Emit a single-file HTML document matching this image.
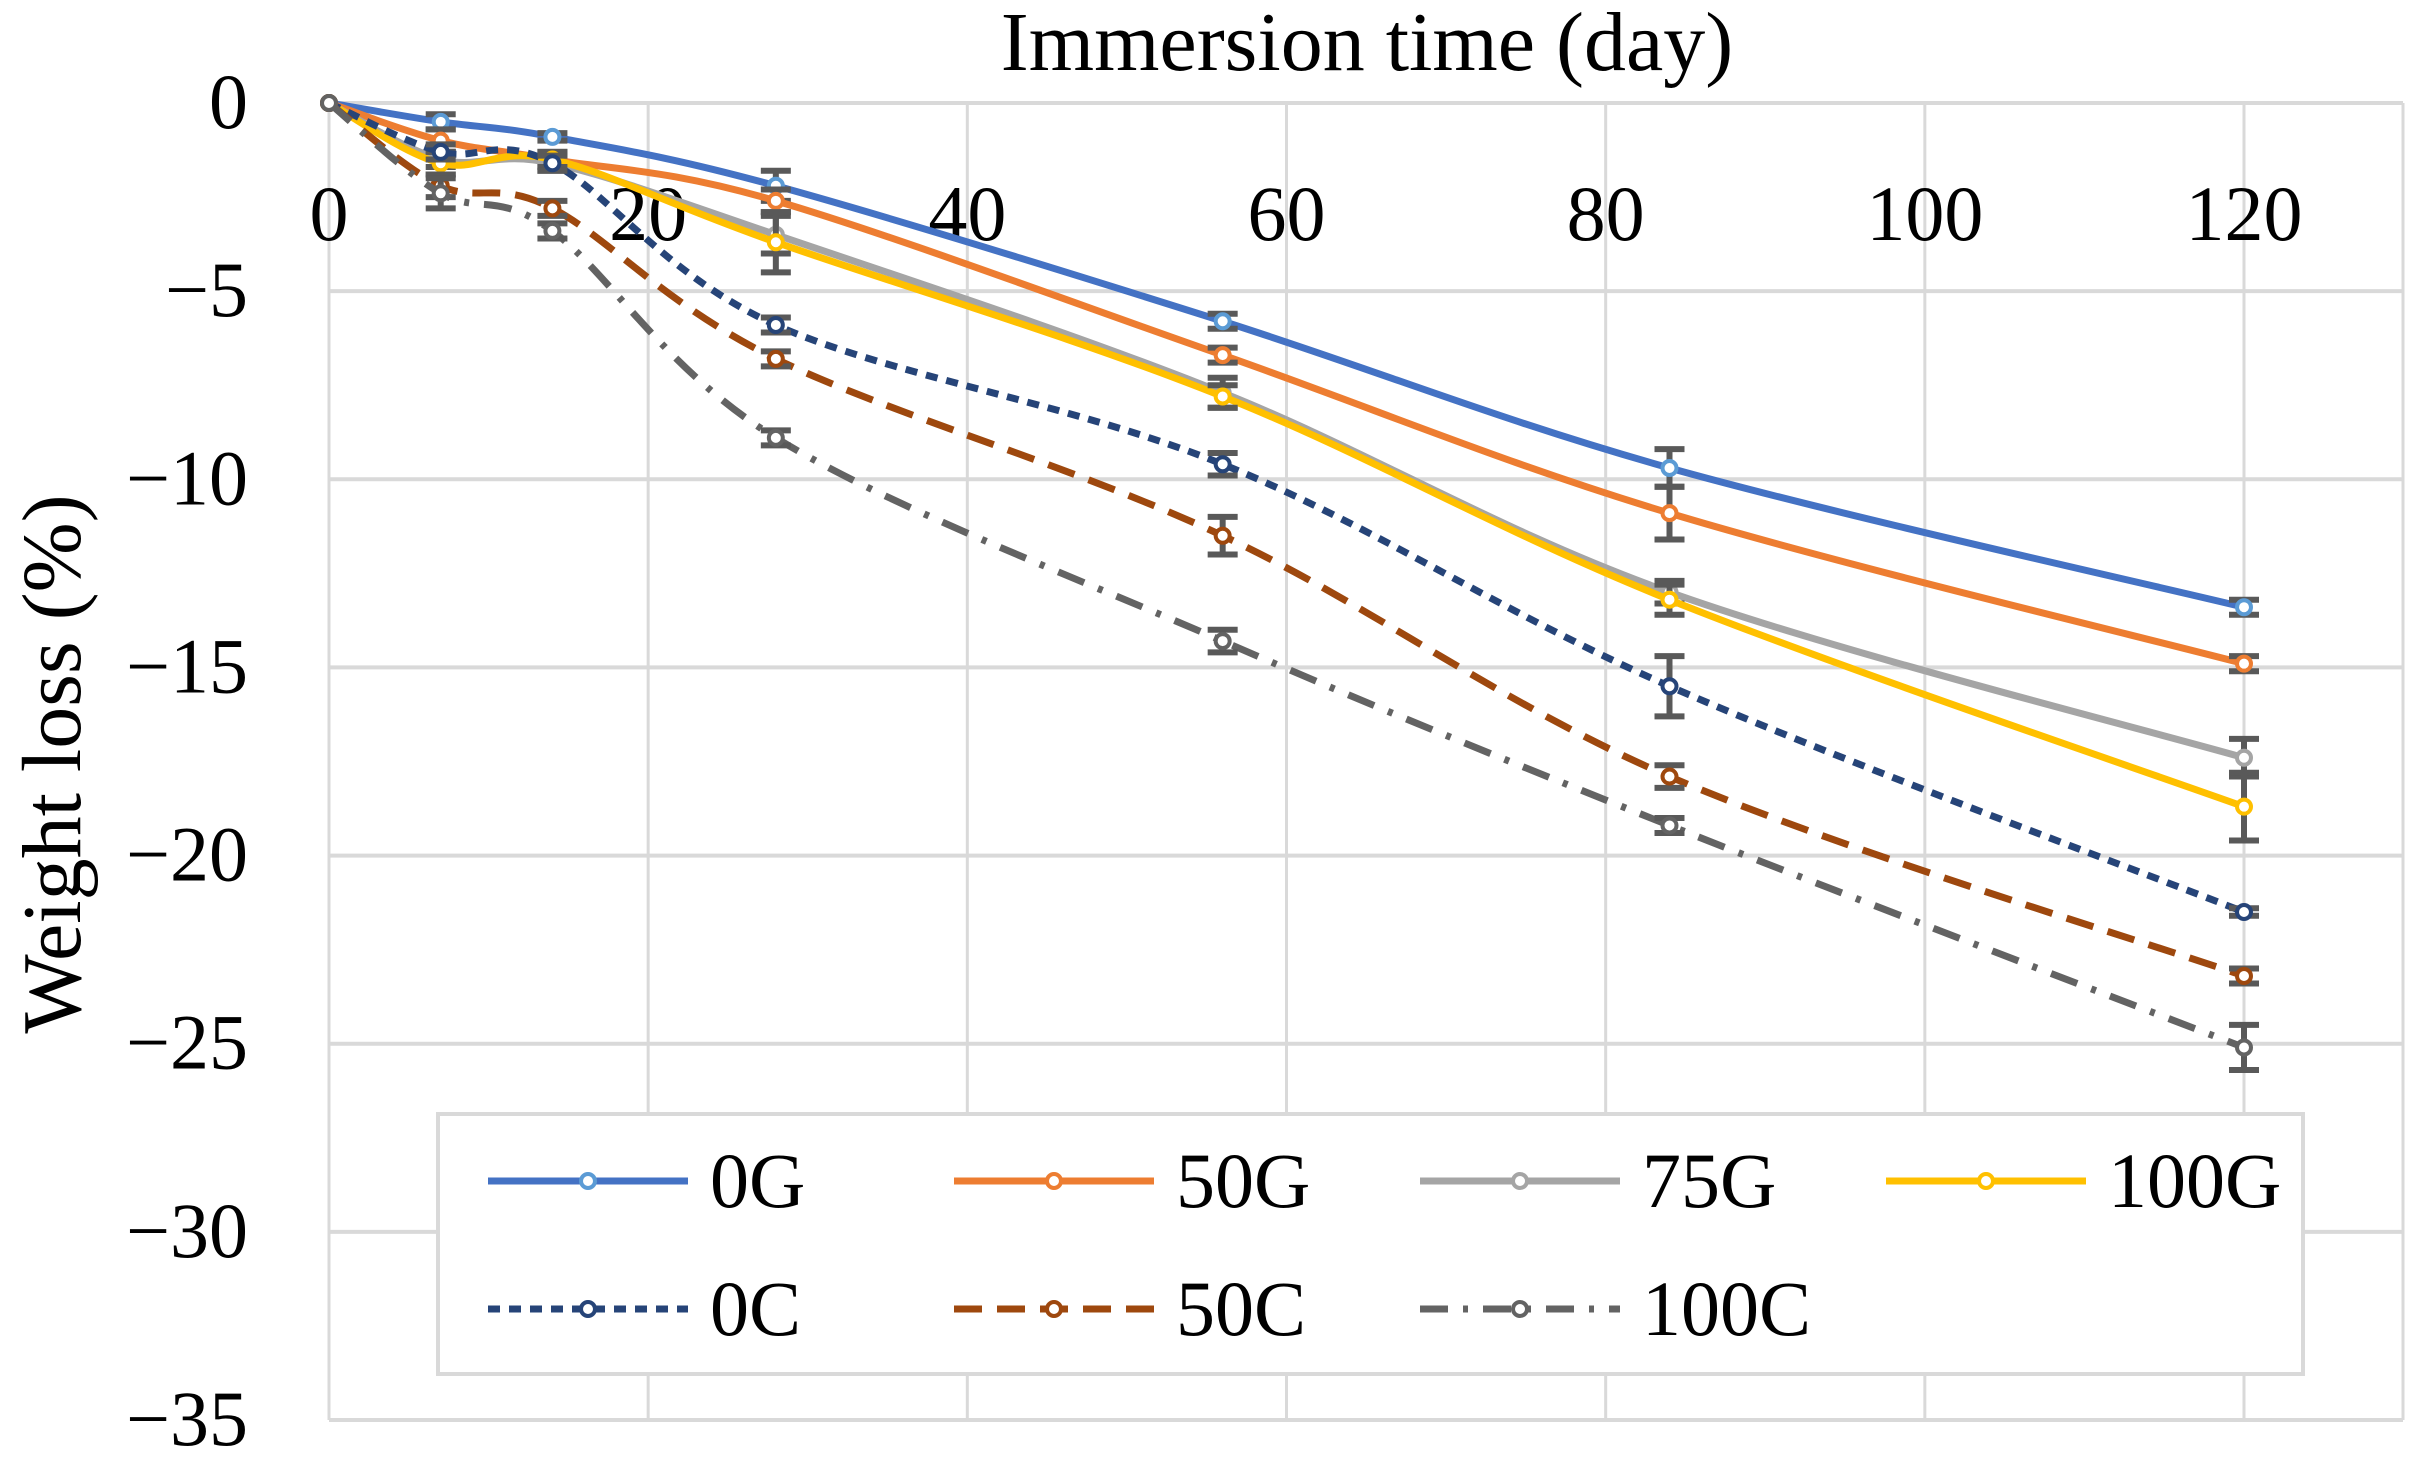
<!DOCTYPE html>
<html><head><meta charset="utf-8"><style>
html,body{margin:0;padding:0;background:#fff;}
svg{display:block;font-family:"Liberation Serif",serif;}
</style></head><body>
<svg id="chart" width="2420" height="1471" viewBox="0 0 2420 1471">
<g id="grid"></g>
<g id="xticks"></g>
<g id="yticks"></g>
<g id="series"></g>
<text x="1367" y="70" font-size="84" text-anchor="middle">Immersion time (day)</text>
<text transform="translate(80,764) rotate(-90)" font-size="84" text-anchor="middle">Weight loss (%)</text>
<g id="legend"></g>
</svg>
<script>
const days = [0, 7, 14, 28, 56, 84, 120];
const seriesNames = ["0G","50G","75G","100G","0C","50C","100C"];
const v0G   = [0, -0.5, -0.9, -2.2, -5.8, -9.7, -13.4];
const v50G  = [0, -1.0, -1.5, -2.6, -6.7, -10.9, -14.9];
const v75G  = [0, -1.5, -1.6, -3.5, -7.7, -13.0, -17.4];
const v100G = [0, -1.6, -1.5, -3.7, -7.8, -13.2, -18.7];
const v0C   = [0, -1.3, -1.6, -5.9, -9.6, -15.5, -21.5];
const v50C  = [0, -2.2, -2.8, -6.8, -11.5, -17.9, -23.2];
const v100C = [0, -2.4, -3.4, -8.9, -14.3, -19.2, -25.1];
const e0G   = [0, 0.2, 0.1, 0.4, 0.2, 0.5, 0.2];
const e50G  = [0, 0.3, 0.2, 0.3, 0.2, 0.7, 0.2];
const e75G  = [0, 0.2, 0.2, 0.5, 0.4, 0.3, 0.5];
const e100G = [0, 0.3, 0.2, 0.8, 0.3, 0.4, 0.9];
const e0C   = [0, 0.2, 0.2, 0.2, 0.3, 0.8, 0.1];
const e50C  = [0, 0.3, 0.2, 0.2, 0.5, 0.3, 0.2];
const e100C = [0, 0.4, 0.2, 0.2, 0.3, 0.2, 0.6];
const xTicks = [0, 20, 40, 60, 80, 100, 120];
const yTicks = [0, -5, -10, -15, -20, -25, -30, -35];
const yTickLabels = ["0","\u22125","\u221210","\u221215","\u221220","\u221225","\u221230","\u221235"];

const NS="http://www.w3.org/2000/svg";
const L=329, R=2403, T=103, B=1420;
const X=d=>L+(d/120)*(2244-L);
const Y=v=>T+(v/-35)*(B-T);
function mk(tag,attrs,parent){const e=document.createElementNS(NS,tag);for(const k in attrs)e.setAttribute(k,attrs[k]);parent.appendChild(e);return e;}

const grid=document.getElementById('grid');
for(let d=0; d<=120; d+=20){
  const l=mk('line',{x1:X(d),x2:X(d),y1:T,y2:B,stroke:'#D9D9D9','stroke-width':3},grid);
  
  
}
const rl=mk('line',{x1:R,x2:R,y1:T,y2:B,stroke:'#D9D9D9','stroke-width':3},grid);


yTicks.forEach(v=>{
  const l=mk('line',{x1:L,x2:R,y1:Y(v),y2:Y(v),stroke:'#D9D9D9','stroke-width':4},grid);
  
  
});
const xt=document.getElementById('xticks');
xTicks.forEach(d=>{
  const t=mk('text',{x:X(d),y:240,'font-size':78,'text-anchor':'middle'},xt);
  t.textContent=d;
  
  
});
const yt=document.getElementById('yticks');
yTicks.forEach((v,i)=>{
  const t=mk('text',{x:248,y:Y(v)+25,'font-size':78,'text-anchor':'end'},yt);
  t.textContent=yTickLabels[i];
  
  
});

const vals=[v0G,v50G,v75G,v100G,v0C,v50C,v100C];
const errs=[e0G,e50G,e75G,e100G,e0C,e50C,e100C];
const colors=['#4472C4','#ED7D31','#A5A5A5','#FFC000','#264478','#9E480E','#636363'];
const mcolors=['#5B9BD5','#ED7D31','#A5A5A5','#FFC000','#264478','#9E480E','#636363'];
const dashes=['','','','','12 9','28 15','28 15 5 15'];

function smooth(pts){
  let d=`M${pts[0][0]},${pts[0][1]}`;
  for(let i=0;i<pts.length-1;i++){
    const p0=pts[Math.max(0,i-1)],p1=pts[i],p2=pts[i+1],p3=pts[Math.min(pts.length-1,i+2)];
    const c1=[p1[0]+(p2[0]-p0[0])/6,p1[1]+(p2[1]-p0[1])/6];
    const c2=[p2[0]-(p3[0]-p1[0])/6,p2[1]-(p3[1]-p1[1])/6];
    d+=` C${c1[0]},${c1[1]} ${c2[0]},${c2[1]} ${p2[0]},${p2[1]}`;
  }
  return d;
}
const sg=document.getElementById('series');
vals.forEach((vs,si)=>{
  const g=mk('g',{},sg);
  
  
  const pts=days.map((d,i)=>[X(d),Y(vs[i])]);
  const p=mk('path',{d:smooth(pts),fill:'none',stroke:colors[si],'stroke-width':7,'stroke-dasharray':dashes[si]},g);
  
  
  days.forEach((d,i)=>{
    if(errs[si][i]>0){
      const x=X(d),y1=Y(vs[i]+errs[si][i]),y2=Y(vs[i]-errs[si][i]);
      const eb=mk('path',{d:`M${x},${y1}V${y2}M${x-15},${y1}H${x+15}M${x-15},${y2}H${x+15}`,stroke:'#595959','stroke-width':6,fill:'none'},g);
      
      
    }
    const c=mk('circle',{cx:X(d),cy:Y(vs[i]),r:7,fill:'#fff',stroke:mcolors[si],'stroke-width':4},g);
    
    
  });
});

const lg=document.getElementById('legend');
mk('rect',{x:438,y:1114,width:1865,height:260,fill:'#fff',stroke:'#D9D9D9','stroke-width':4},lg);
const colX=[488,954,1420,1886];
seriesNames.forEach((n,i)=>{
  const row=i<4?0:1, col=i<4?i:i-4;
  const x=colX[col], y=row?1309:1181;
  const e=mk('g',{},lg);
  
  
  mk('line',{x1:x,x2:x+200,y1:y,y2:y,stroke:colors[i],'stroke-width':7,'stroke-dasharray':dashes[i]},e);
  mk('circle',{cx:x+100,cy:y,r:7,fill:'#fff',stroke:mcolors[i],'stroke-width':4},e);
  const t=mk('text',{x:x+222,y:y+26,'font-size':78},e);
  t.textContent=n;
});
</script>
</body></html>
